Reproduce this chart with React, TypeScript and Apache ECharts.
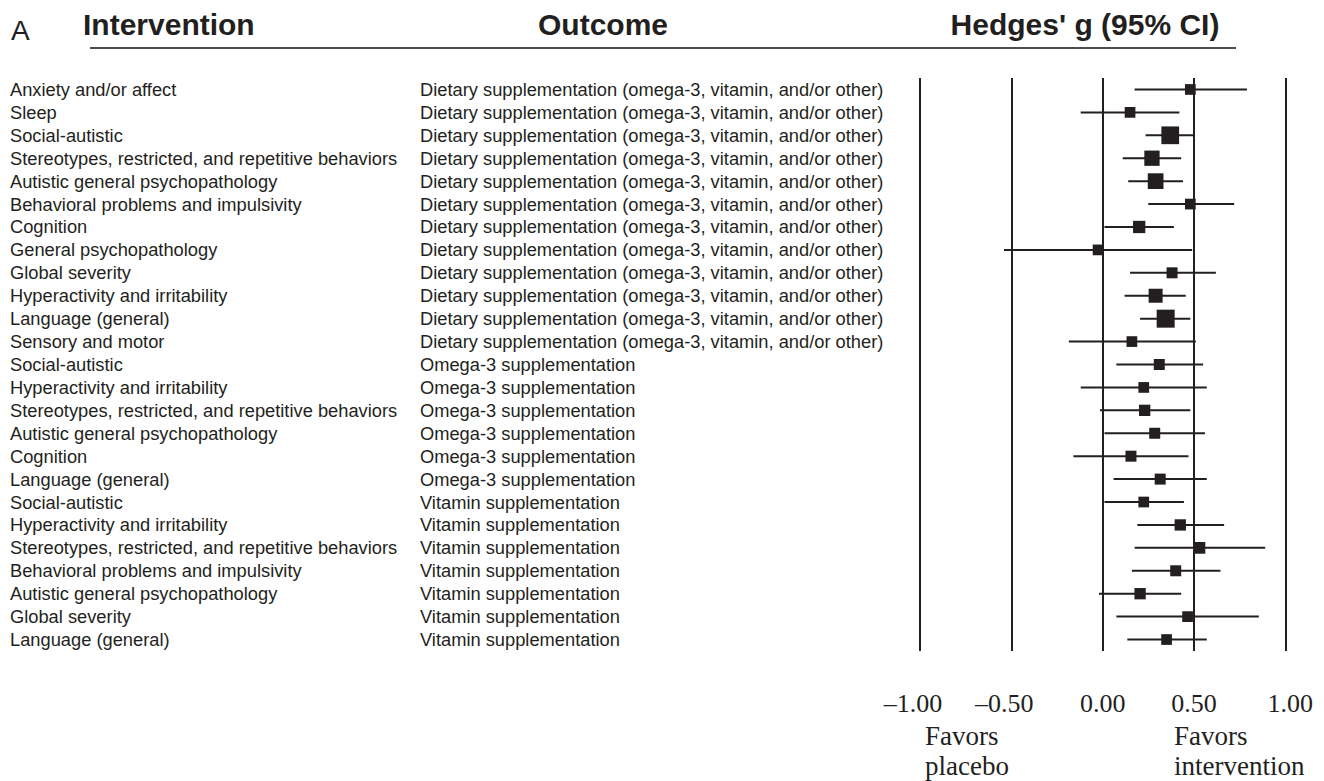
import React, { useEffect, useRef } from 'react';
import * as echarts from 'echarts';

const DIET = 'Dietary supplementation (omega-3, vitamin, and/or other)';
const OMEGA = 'Omega-3 supplementation';
const VIT = 'Vitamin supplementation';

const panelLetter = 'A';
const headers = ['Intervention', 'Outcome', "Hedges' g (95% CI)"];

const interventions = [
  'Anxiety and/or affect',
  'Sleep',
  'Social-autistic',
  'Stereotypes, restricted, and repetitive behaviors',
  'Autistic general psychopathology',
  'Behavioral problems and impulsivity',
  'Cognition',
  'General psychopathology',
  'Global severity',
  'Hyperactivity and irritability',
  'Language (general)',
  'Sensory and motor',
  'Social-autistic',
  'Hyperactivity and irritability',
  'Stereotypes, restricted, and repetitive behaviors',
  'Autistic general psychopathology',
  'Cognition',
  'Language (general)',
  'Social-autistic',
  'Hyperactivity and irritability',
  'Stereotypes, restricted, and repetitive behaviors',
  'Behavioral problems and impulsivity',
  'Autistic general psychopathology',
  'Global severity',
  'Language (general)',
];

const outcomes = [
  DIET, DIET, DIET, DIET, DIET, DIET, DIET, DIET, DIET, DIET, DIET, DIET,
  OMEGA, OMEGA, OMEGA, OMEGA, OMEGA, OMEGA,
  VIT, VIT, VIT, VIT, VIT, VIT, VIT,
];

const estimates = [
  0.48, 0.15, 0.37, 0.27, 0.29, 0.48, 0.2, -0.025, 0.38, 0.29, 0.345, 0.16,
  0.31, 0.225, 0.23, 0.285, 0.155, 0.315,
  0.225, 0.425, 0.53, 0.4, 0.205, 0.465, 0.35,
];
const lowerCI = [
  0.175, -0.12, 0.235, 0.11, 0.14, 0.25, 0.01, -0.54, 0.15, 0.12, 0.205, -0.185,
  0.075, -0.12, -0.015, 0.01, -0.16, 0.06,
  0.01, 0.19, 0.175, 0.16, -0.02, 0.075, 0.135,
];
const upperCI = [
  0.79, 0.42, 0.5, 0.43, 0.44, 0.72, 0.39, 0.49, 0.62, 0.455, 0.48, 0.51,
  0.55, 0.57, 0.48, 0.56, 0.47, 0.57,
  0.445, 0.665, 0.89, 0.645, 0.43, 0.855, 0.57,
];
// relative study weights (drive square area)
const weights = [
  0.95, 0.95, 2.6, 1.93, 2.04, 0.95, 1.25, 0.95, 1.0, 1.62, 2.68, 0.95,
  1.0, 0.95, 1.06, 1.0, 1.0, 1.0,
  0.95, 1.06, 1.13, 1.0, 1.06, 0.95, 0.95,
];

const tickValues = [-1, -0.5, 0, 0.5, 1];
const tickLabels = ['\u20131.00', '\u20130.50', '0.00', '0.50', '1.00'];
const leftNote = ['Favors', 'placebo'];
const rightNote = ['Favors', 'intervention'];

const INK = '#231f20';
const SANS = '"Liberation Sans", Arial, Helvetica, sans-serif';
const SERIF = '"Liberation Serif", "Times New Roman", Times, serif';
const ROW_FONT = 18.3;

export default function App() {
  const ref = useRef<HTMLDivElement>(null);

  useEffect(() => {
    if (!ref.current) return;
    const chart = echarts.init(ref.current, undefined, { renderer: 'svg' });
    const rows = interventions.map((_, i) => String(i));

    const noteText = (x: number, y: number, text: string) => ({
      type: 'text',
      x,
      y,
      style: { text, font: '27px ' + SERIF, fill: INK, textAlign: 'left', textVerticalAlign: 'middle' },
    });

    const option: any = {
      animation: false,
      backgroundColor: '#ffffff',
      grid: {
        left: 920,
        right: 38.7,
        top: 78,
        bottom: 130,
        containLabel: false,
        outerBoundsMode: 'none',
      },
      xAxis: {
        type: 'value',
        min: -1,
        max: 1,
        interval: 0.5,
        axisLine: { show: false },
        axisTick: { show: false },
        splitLine: { show: true, lineStyle: { color: INK, width: 2 } },
        axisLabel: {
          margin: 39,
          fontFamily: SERIF,
          fontSize: 26,
          color: INK,
          formatter: (v: number) => {
            const i = tickValues.findIndex((t) => Math.abs(t - v) < 1e-9);
            const s = i >= 0 ? tickLabels[i] : String(v);
            if (v < 0) return '{neg|' + s + '}';
            if (v >= 1) return '{pos|' + s + '}';
            return s;
          },
          rich: {
            neg: { fontFamily: SERIF, fontSize: 26, color: INK, padding: [0, 14, 0, 0] },
            pos: { fontFamily: SERIF, fontSize: 26, color: INK, padding: [0, 0, 0, 10] },
          },
        },
      },
      yAxis: {
        type: 'category',
        data: rows,
        inverse: true,
        axisLine: { show: false },
        axisTick: { show: false },
        splitLine: { show: false },
        axisLabel: {
          interval: 0,
          margin: 910,
          align: 'left',
          fontFamily: SANS,
          fontSize: ROW_FONT,
          color: INK,
          formatter: (v: string) => {
            const i = Number(v);
            return '{a|' + interventions[i] + '}{b|' + outcomes[i] + '}';
          },
          rich: {
            a: { width: 410, fontFamily: SANS, fontSize: ROW_FONT, color: INK },
            b: { fontFamily: SANS, fontSize: ROW_FONT, color: INK },
          },
        },
      },
      series: [
        {
          type: 'custom',
          data: lowerCI.map((lo, i) => [lo, upperCI[i], i]),
          encode: { x: [0, 1], y: 2 },
          renderItem: (params: any, api: any) => {
            const lo = api.value(0);
            const hi = api.value(1);
            const idx = api.value(2);
            const p1 = api.coord([lo, idx]);
            const p2 = api.coord([hi, idx]);
            return {
              type: 'line',
              shape: { x1: p1[0], y1: p1[1], x2: p2[0], y2: p2[1] },
              style: { stroke: INK, lineWidth: 2 },
            };
          },
          z: 2,
        },
        {
          type: 'scatter',
          symbol: 'rect',
          data: estimates.map((e, i) => [e, i]),
          symbolSize: (_v: any, params: any) => 11 * Math.sqrt(weights[params.dataIndex]),
          itemStyle: { color: INK, opacity: 1 },
          z: 3,
        },
      ],
      graphic: [
        {
          type: 'text',
          x: 11,
          y: 30,
          style: { text: panelLetter, font: '28px ' + SANS, fill: INK, textAlign: 'left', textVerticalAlign: 'middle' },
        },
        {
          type: 'text',
          x: 83,
          y: 24,
          style: { text: headers[0], font: 'bold 30px ' + SANS, fill: INK, textAlign: 'left', textVerticalAlign: 'middle' },
        },
        {
          type: 'text',
          x: 603,
          y: 24,
          style: { text: headers[1], font: 'bold 30px ' + SANS, fill: INK, textAlign: 'center', textVerticalAlign: 'middle' },
        },
        {
          type: 'text',
          x: 1085,
          y: 24,
          style: { text: headers[2], font: 'bold 30px ' + SANS, fill: INK, textAlign: 'center', textVerticalAlign: 'middle' },
        },
        {
          type: 'line',
          shape: { x1: 90, y1: 48, x2: 1236, y2: 48 },
          style: { stroke: '#4d4d4d', lineWidth: 2 },
        },
        noteText(925, 736, leftNote[0]),
        noteText(925, 766, leftNote[1]),
        noteText(1174, 736, rightNote[0]),
        noteText(1174, 766, rightNote[1]),
      ],
    };

    chart.setOption(option);
    return () => {
      chart.dispose();
    };
  }, []);

  return (
    <div
      ref={ref}
      style={{ position: 'fixed', left: 0, top: 0, width: 1324, height: 781, background: '#fff' }}
    />
  );
}
